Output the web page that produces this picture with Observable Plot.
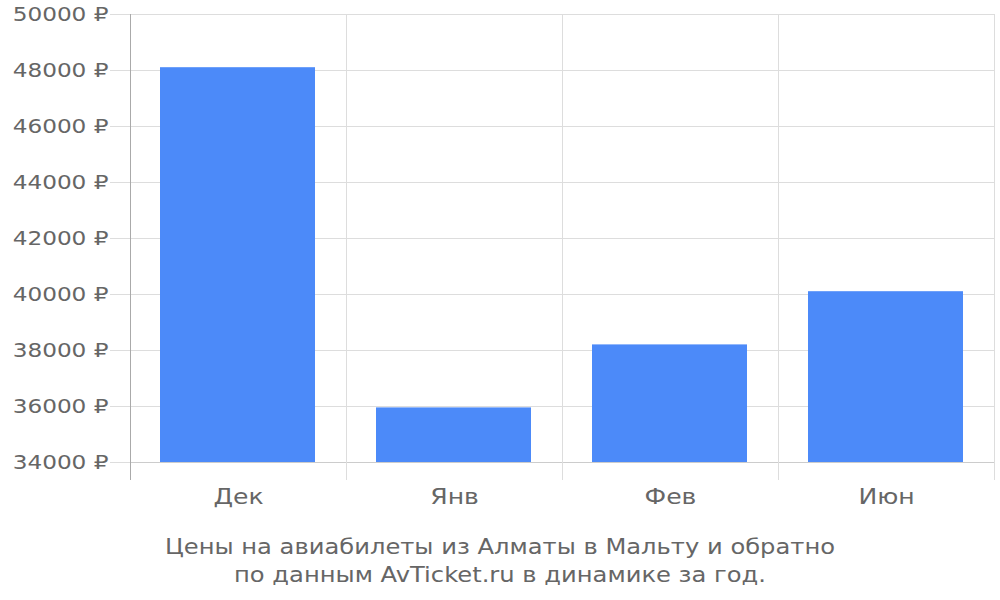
<!DOCTYPE html>
<html>
<head>
<meta charset="utf-8">
<script src="https://cdn.jsdelivr.net/npm/d3@7"></script>
<script src="https://cdn.jsdelivr.net/npm/@observablehq/plot@0.6"></script>
<style>
  html, body { margin: 0; padding: 0; background: #fff; }
  #chart { width: 1000px; font-family: "DejaVu Sans", sans-serif; }
  #chart svg { display: block; }
  #caption { text-align: center; font-size: 22px; line-height: 28px; color: #666; margin-top: 3px; transform: scaleX(1.1); transform-origin: 500px 0; }
</style>
</head>
<body>
<div id="chart"></div>
<script>
const categories = ["Дек", "Янв", "Фев", "Июн"];
const prices = [48100, 35950, 38200, 40100];
const yTicks = [34000, 36000, 38000, 40000, 42000, 44000, 46000, 48000, 50000];
const captionLines = ["Цены на авиабилеты из Алматы в Мальту и обратно", "по данным AvTicket.ru в динамике за год."];

const data = categories.map((c, i) => ({cat: c, i, value: prices[i]}));
const bounds = d3.range(categories.length + 1);
const centers = categories.map((c, i) => i + 0.5);

const plot = Plot.plot({
  width: 1000,
  height: 530,
  marginTop: 14,
  marginBottom: 68,
  marginLeft: 130,
  marginRight: 6,
  style: {fontFamily: "DejaVu Sans, sans-serif", background: "#fff"},
  x: {type: "linear", domain: [0, categories.length], axis: null, label: null},
  y: {domain: [34000, 50000], axis: null, label: null},
  marks: [
    Plot.gridY(yTicks, {stroke: "#ddd", strokeOpacity: 1}),
    Plot.gridX(bounds.slice(1), {stroke: "#ddd", strokeOpacity: 1}),
    Plot.rectY(data, {x1: "i", x2: d => d.i + 1, y1: 34000, y2: "value", fill: "#4c8af9", insetLeft: 30, insetRight: 31}),
    Plot.ruleY([34000], {stroke: "#ccc"}),
    Plot.ruleX([0], {stroke: "#aaa"}),
    Plot.axisY({ticks: yTicks, label: null, tickFormat: d => `${d} ₽`, tickSize: 20, tickPadding: 2, stroke: "#ddd", strokeOpacity: 1, fill: "#666", fontSize: 20}),
    Plot.axisX({ticks: [0], label: null, tickSize: 18, stroke: "#aaa", strokeOpacity: 1, tickFormat: () => ""}),
    Plot.axisX({ticks: bounds.slice(1), label: null, tickSize: 18, stroke: "#ddd", strokeOpacity: 1, tickFormat: () => ""}),
    Plot.axisX({ticks: centers, label: null, tickSize: 0, tickPadding: 26, tickFormat: d => categories[Math.floor(d)], fill: "#666", fontSize: 22})
  ]
});
function stretch(sel, s) {
  d3.select(plot).selectAll(sel).each(function() {
    const t = this.getAttribute("transform") || "";
    this.setAttribute("transform", t + ` scale(${s},1)`);
  });
}
stretch('g[aria-label="y-axis tick label"] text', 1.16);
stretch('g[aria-label="x-axis tick label"] text', 1.14);
document.getElementById("chart").appendChild(plot);
const cap = document.createElement("div");
cap.id = "caption";
cap.innerHTML = captionLines.join("<br>");
document.getElementById("chart").appendChild(cap);
</script>
</body>
</html>
